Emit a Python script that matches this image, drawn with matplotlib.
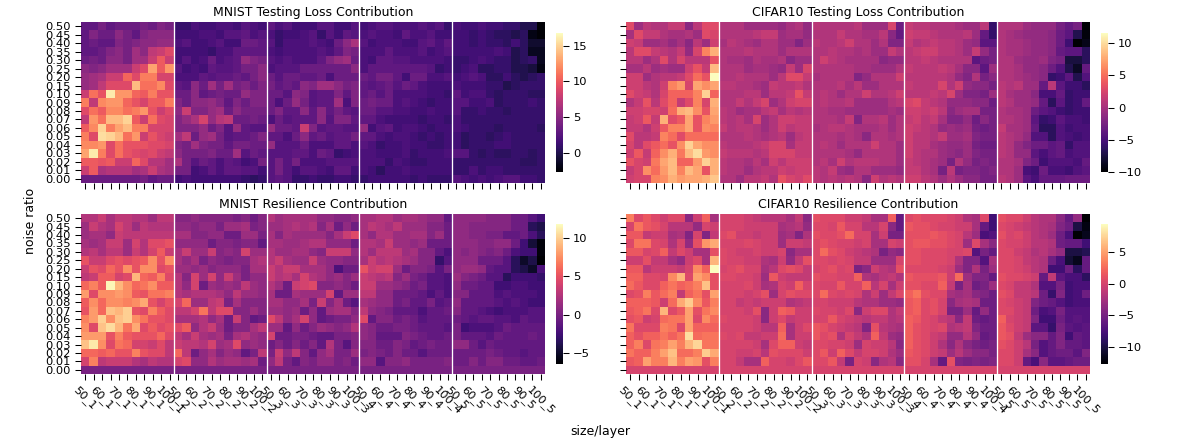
import numpy as np
import matplotlib
matplotlib.use("Agg")
import matplotlib.pyplot as plt

W, H, DPI = 1189, 443, 75

noise = ["0.50", "0.45", "0.40", "0.35", "0.30", "0.25", "0.20", "0.15", "0.10", "0.09",
         "0.08", "0.07", "0.06", "0.05", "0.04", "0.03", "0.02", "0.01", "0.00"]
sizes = [50, 55, 60, 65, 70, 75, 80, 85, 90, 95, 100]
layers = [1, 2, 3, 4, 5]
Z = [0] * 11  # zero noise row of the resilience maps

# rows run from noise 0.50 down to 0.00, columns from size 50 to 100
ml1 = [[3,3,4,3,3.5,3.5,3.5,4,3.5,4.5,4],
       [3,4.5,3.5,3.5,5,4,3,4.5,5,5,5],
       [3,3.5,3,3,4.5,4,4.5,5,5,5.5,5.5],
       [3,3,3.5,4.5,5,4,6,5,7.5,8,9],
       [3.5,4,3.5,5,5,4,6,6,8,10,8],
       [5,4.5,5,6,6,6,8,9,13,10,12.5],
       [5.5,6,6.5,8,8,10.5,9,11.5,11.5,8.5,8.5],
       [5.5,6,7.5,9,9,9,14,11,11,12,9],
       [8,11,9.5,16,12.5,12.5,10.5,10,11.5,9.5,9.5],
       [11.5,7.5,12,12.5,12.5,10.5,9.5,8.5,10,10,11.5],
       [9,11,10,12,12,11,11.5,12.5,9.5,8,9],
       [7.5,12.5,11,14,14,15,10,8,11,9,8.5],
       [10,12,15,11.5,13,14,11.5,11.5,8.5,8.5,8.5],
       [11.5,9,15.5,15,14,11,12.5,8,9.5,8.5,8],
       [12,12,12.5,9,11,9.5,9.5,9.5,9,9,8.5],
       [13,16,11.5,9,11,9.5,9,8.5,9,8,7.5],
       [10,10,9.5,10,8,8,10.5,9,7,7,6],
       [8,10,6.5,7,7,7,6,6.5,8,6.5,6],
       [3.5,3.5,3.5,3.5,3.5,3.5,3.5,4,3,3.5,3.5]]
ml2 = [[1,1,2,1.5,1.5,2,2,1.5,2.5,2,1.5],
       [1.5,1.5,1.5,2,2,1.5,2.5,2.5,3,2,2.5],
       [2,2.5,1.5,1.5,2,2.5,1.5,1.5,3.5,3.5,3],
       [1.5,1.5,1.5,1.5,1,2,2,3,3,3,3],
       [1.5,2.5,1.5,2,3.5,2,2.5,3,5.5,4.5,4],
       [2.5,1.5,2,1.5,3,2.5,2.5,3,4,4,5],
       [2,2,2,3,2.5,3,3,3.5,3,4,5],
       [3,2.5,5,3.5,6,4,6,4,4.5,3.5,4.5],
       [3.5,3.5,5,3,3.5,4,3.5,3.5,5.5,4.5,4.5],
       [4.5,3.5,5,5,5.5,4.5,3,4.5,3.5,4.5,4.5],
       [5,8,4.5,4.5,5.5,6,3.5,5,4,4,4],
       [4.5,5.5,6.5,8.5,5.5,7,7.5,3.5,3.5,4,3.5],
       [4.5,4.5,4.5,5.5,3.5,4.5,2.5,5.5,3,2.5,2.5],
       [6,7.5,3.5,5.5,6,4,2.5,3,3,3.5,4.5],
       [4.5,4,6,4.5,4,4,3,4,4,3.5,3.5],
       [5,4,4,4,4.5,3.5,3.5,6,2.5,3.5,3],
       [6.5,4,2.5,3.5,3,2,3,2.5,1.5,2,4],
       [4,4,1.5,2,3,2,3,3,2.5,2.5,1.5],
       [1.5,2,1.5,1.5,1.5,1.5,1.5,1.5,1,0.5,1]]
ml3 = [[3,2,2.5,1.5,1.5,1.5,2.5,2.5,1.5,1.5,2.5],
       [2,1,1.5,1.5,2,2.5,1,2.5,1.5,3,2.5],
       [2.5,1,2,2,2,2.5,2,1.5,3.5,5,6.5],
       [2,1.5,2,2,2,2,2.5,2,3,4.5,4],
       [2.5,2,2.5,2,2,2,3,4.5,5.5,6,3.5],
       [2,2.5,2.5,2.5,3.5,3.5,3.5,3.5,3.5,3.5,5],
       [3.5,2.5,3.5,3.5,3,3,3.5,2,3.5,3.5,3.5],
       [4,3,3.5,3,5,4.5,6,6,5,4,4.5],
       [3.5,3.5,2.5,5,4.5,2.5,3,3,4.5,3,4.5],
       [3.5,2,3.5,5.5,4,2.5,3,3,6,2,4.5],
       [3.5,4.5,3,3,5,3,5,3,4,3,2.5],
       [2,3.5,2.5,3,3,3,5,2.5,4.5,4.5,3],
       [5.5,3.5,3.5,3,8,4.5,2.5,3,3,2.5,2.5],
       [3,3,2,3.5,5,3,3.5,2.5,3,3,4],
       [5.5,2.5,2.5,2.5,3.5,2,2,2,3,3,2],
       [2.5,2.5,2.5,3,3,2,3.5,3,1,1.5,2],
       [2.5,4,2.5,4,2,2,2,2.5,2.5,2.5,2.5],
       [2.5,4,2.5,1.5,2.5,2.5,2,1.5,3,3,1.5],
       [2.5,3,2.5,1,1,1.5,1,1,1.5,1.5,1]]
ml4 = [[1.5,2,2.5,2.5,2,2,2,2.5,2,2.5,1],
       [2,2.5,2,2,1.5,3,2,2,2.5,1.5,1.5],
       [2.5,1.5,2,2,2,1.5,1.5,2.5,3,2,3],
       [2,2,2,3,2,2,2,2.5,1.5,2,2.5],
       [2,1.5,3,3,2.5,2.5,2,2,2,2,1.5],
       [2,3,3,3,3,3,3,3,2.5,1,1.5],
       [3.5,3,4,4,3,1.5,3.5,3.5,2,2,2.5],
       [3,2.5,3,3.5,2.5,3.5,3,2,1.5,1.5,1.5],
       [3,3.5,2.5,3.5,2,2,2,2,1.5,1.5,1],
       [3.5,4,3.5,3.5,2,2.5,2,1.5,1,1.5,1.5],
       [3.5,3.5,2.5,2.5,2,2,1.5,1.5,2,1.5,1.5],
       [3,3,2,1.5,1.5,1.5,1.5,1,1.5,1.5,1],
       [5.5,1.5,2.5,3,1.5,2,2,1.5,1,1.5,1.5],
       [3,3,2,1.5,2,2,1.5,1,1.5,1,1.5],
       [2.5,2,1,1.5,1.5,2,1.5,1.5,1,1,1.5],
       [2,2,1.5,1.5,1.5,2,1,1.5,1.5,1.5,2],
       [2,2,2,1,2,1.5,1,1,1.5,1.5,1.5],
       [2,1.5,0.5,1.5,1.5,2,1.5,1.5,1.5,1.5,1.5],
       [1,1.5,1.5,1.5,1.5,1.5,1,1.5,1,1,1]]
ml5 = [[2,1.5,1.5,2,1.5,1.5,1,1,0,0,-2.5],
       [1.5,1.5,1,1.5,1,0.5,0.5,0,0.5,-2,-2.5],
       [1.5,1.5,1,1.5,1,1,0.5,1.5,0.5,-1,-1],
       [1.5,1.5,1.5,1.5,1.5,2,1.5,0,0.5,-1.5,-1.5],
       [1,1,1.5,2,1.5,1,1,0,0.5,1,-1.5],
       [1,1.5,2,0.5,0.5,1,1,0,0,-0.5,-2],
       [1.5,2,2.5,2,0.5,0.5,1.5,0.5,0,0.5,1],
       [2,1.5,1.5,1.5,1,1,0,0.5,1,1,1],
       [3,1.5,2,2,1,0.5,1,1,1,0.5,0.5],
       [2.5,2.5,1.5,1.5,2,0.5,1,1,1,1.5,1],
       [2.5,1,1,1.5,1,1,0.5,1,1,1,1],
       [2,1,1,1,1,1,1,1,1,1,1],
       [2,1.5,1,1,1,0.5,1,1,1,1,0.5],
       [1.5,0.5,1,1,0.5,1,1.5,1,1,1,1],
       [1.5,0.5,1,1,1,1.5,1.5,1,1,1,1],
       [2.5,2.5,1,0.5,1,0.5,0.5,1,1,0.5,1],
       [1,1,1,1,1,1,1,1,0.5,0.5,1],
       [1,1,2,1,1.5,1.5,1,1,1,1,1],
       [2.5,2,1.5,2,1.5,2,2.5,2.5,1.5,1.5,1]]

mr1 = [[2.5,2.5,3.5,2,3,3,2.5,2.5,1.5,3,3],
       [1.5,3.5,2.5,2,4,3,1.5,3,2.5,2.5,2.5],
       [1.5,2,2,1,3.5,3,3,3,3,3,3],
       [2,1.5,2,3.5,3.5,1.5,4,2.5,4.5,4.5,5],
       [2.5,3,2,3,3,1.5,3.5,2.5,4,5.5,3.5],
       [5,3.5,3.5,4.5,5,4.5,5,5.5,7.5,5,7.5],
       [3.5,5,4.5,6,5,7.5,5,7.5,7.5,4.5,5],
       [3,3.5,5.5,5.5,4,4.5,9,6,5.5,7,4.5],
       [6,7,5.5,11.5,9,7.5,6,6.5,7.5,5.5,5.5],
       [8,4.5,7.5,7.5,8,7.5,5.5,5,6.5,6.5,7],
       [5.5,7.5,6,7.5,7.5,7,7.5,8.5,5,4,5],
       [5,8,6,9.5,9,10,5,4.5,7,5.5,4.5],
       [7,8,10,7.5,9.5,10,7.5,6.5,5,5,4.5],
       [7.5,4.5,9.5,10.5,9,6.5,8.5,4.5,5.5,4.5,5],
       [8,8,8,5,7,5.5,5,5,5,6,4.5],
       [9.5,11,7.5,4.5,6.5,6,4,4,3.5,4.5,3],
       [6,6,5.5,6,5,5,7,5,4.5,4.5,3],
       [4,7,3,3.5,3.5,3.5,2.5,2,3,2.5,2.5],
       Z]
mr2 = [[0.5,0.5,1,0.5,0.5,0.5,0.5,0,0.5,-0.5,0.5],
       [1,1,0.5,1,1,0,1.5,1.5,2,0,0.5],
       [2,2,0.5,0.5,1,1,-0.5,-0.5,1.5,1.5,0],
       [1,1,1,1,-0.5,0.5,0.5,0,0.5,0.5,-1],
       [2,3.5,1.5,1.5,3.5,0.5,1,0.5,4,1.5,1.5],
       [2,1,2,0,1,0.5,0,0.5,0.5,2,2.5],
       [1.5,1.5,1,1.5,0.5,1,1,1,0,2,2],
       [2.5,0.5,4,1.5,4,1,3.5,1.5,0,1,1],
       [2.5,1,4,-0.5,1.5,1,1.5,1,3,1.5,1],
       [2.5,2,2.5,2.5,2.5,2,1,3,1.5,1.5,1],
       [4,6,1.5,1.5,3,3.5,0,2,0.5,0.5,0.5],
       [3,3,4,6.5,3,4.5,4.5,0.5,0.5,1.5,0.5],
       [2,2,2,2.5,1,2,-0.5,3.5,0.5,-1,-0.5],
       [4.5,5.5,1,2.5,3.5,1.5,-0.5,0.5,0.5,2,3],
       [3,2,3.5,2,1.5,2,0,2,2.5,1.5,1],
       [3.5,3,3,2.5,4,1.5,2,4.5,1,1.5,1],
       [6,3,-0.5,1,2,0.5,1.5,1,-1,0,3],
       [4,4.5,1,1,2.5,1.5,2,2,1.5,2,-0.5],
       Z]
mr3 = [[2.5,1.5,2,2,2,2,1,1,0.5,0.5,1],
       [1.5,1.5,2,2.5,2,2.5,0.5,2,-0.5,1,-0.5],
       [2,0.5,2,1.5,1.5,1.5,1.5,0.5,2,3.5,4.5],
       [2,2,1.5,1.5,2,2.5,2.5,1,1,1,-0.5],
       [2.5,1.5,1.5,2,2,1,0.5,3.5,3.5,3.5,1],
       [2.5,3.5,2,1.5,1.5,3.5,1.5,1,1,0.5,0.5],
       [3.5,2.5,3.5,3.5,2,2,2,1,-2,-0.5,-0.5],
       [3.5,2.5,3,2,4,2.5,2,1,1.5,0.5,1.5],
       [2.5,1.5,-0.5,3.5,4,4.5,0.5,0.5,1,0.5,-0.5],
       [2,-0.5,-0.5,2,1.5,1.5,1.5,4,-1,1.5,1.5],
       [2,2,1,1,2,0,3.5,0.5,2,-0.5,-1.5],
       [1.5,1.5,1,1.5,-0.5,1,-1,1.5,2,2,0.5],
       [4.5,3,1,2,4,1,-1,-0.5,0,0,1],
       [1.5,1.5,-1,1,-0.5,0.5,1.5,1,0.5,1,2.5],
       [4,-0.5,-0.5,0,0,-0.5,-1,-1,0,0,0.5],
       [-0.5,0.5,-0.5,0.5,-0.5,0.5,-1,2.5,0,-1.5,0.5],
       [0,3.5,1,3,0.5,-1,1,2,0,0,1.5],
       [1,3,0,-1,0.5,0,1,1,0,0.5,-0.5],
       Z]
mr4 = [[2,2,2.5,2.5,1.5,2,2,1.5,1,1,-1],
       [2,3,2.5,2,3,1.5,1.5,1.5,0.5,0.5,-0.5],
       [2,1,2.5,2.5,1.5,1.5,2,2,0.5,1.5,-0.5],
       [2.5,2.5,2,3.5,1.5,1.5,1,1.5,-0.5,-0.5,-0.5],
       [2.5,1.5,3,3,3,1.5,2,0.5,0.5,-1,-2],
       [2,3.5,2.5,3,2.5,2,1.5,0.5,0.5,-3,-1.5],
       [5,3.5,4,4,1.5,-0.5,0.5,0.5,0,-1.5,0],
       [3.5,3,2.5,3,0.5,1.5,0,-0.5,-1.5,-1.5,-2],
       [3.5,3.5,1.5,1.5,1,0.5,-0.5,0,-1.5,-1.5,-2],
       [3,3,1,1,-0.5,-0.5,-0.5,-1,-2,-1,-2],
       [2,1.5,1,1,-0.5,0,-1,-1,0,-1.5,-1],
       [3,1,0.5,0,-1,-1,-1,-2,-1,-1,-0.5],
       [4.5,-1,0.5,0.5,-0.5,0,-0.5,-1.5,-1,-1,-1],
       [1,0.5,-0.5,-0.5,0,0,-0.5,-1,-1,-1,-1.5],
       [1,0.5,-1,-1,-1,0.5,0,-0.5,-1,-1,-0.5],
       [0.5,0.5,-0.5,-0.5,0.5,0,-1,-0.5,0,-0.5,-0.5],
       [0,0.5,0,-0.5,0.5,-0.5,-0.5,-1.5,-0.5,-0.5,-0.5],
       [1,1,-1.5,0.5,0.5,1,0,0,0,0,0.5],
       Z]
mr5 = [[1,1,1,1,0.5,0.5,0.5,-0.5,-0.5,-1.5,-2.5],
       [1,1,0.5,0.5,0.5,0.5,0.5,-0.5,-0.5,-3.5,-4],
       [1,1,0.5,0.5,0,0,-1,-1,-0.5,-2,-3.5],
       [1,1,1,0.5,0.5,1,1,-0.5,-2.5,-4.5,-6],
       [1,0.5,1,0.5,0,0.5,-0.5,-2,-2.5,-2.5,-6],
       [1,1,1,-0.5,-0.5,-0.5,-1.5,-3.5,-5,-4,-6.4],
       [1,1.5,1.5,1,-1,-1.5,-1.5,-3.5,-4,-5,-2],
       [1.5,0.5,0,-0.5,-1.5,-1.5,-3.5,-2.5,-2.5,-2.5,-3],
       [1,-0.5,-0.5,-1,-1,-2.5,-2.5,-2,-2,-2.5,-2.5],
       [0.5,0.5,-1,-1,-1,-2,-1.5,-2,-2,-2,-2.5],
       [1,-1,-1,-1,-1,-1.5,-2,-1.5,-2,-2.5,-2.5],
       [0.5,-1,-1,-1.5,-2,-2.5,-2,-2,-2,-1.5,-1.5],
       [-0.5,-1,-1.5,-1,-1,-1.5,-1.5,-2,-1,-1.5,-1.5],
       [0,-2.5,-2,-2,-2,-1.5,-0.5,-1,-1,-1,-1],
       [0,-1,-1,-1,-1.5,-0.5,-1,-1,-1,-0.5,-1],
       [1,1,-0.5,-1.5,-0.5,-1,-1,-1,-1,-1,-1],
       [-0.5,-0.5,-0.5,-0.5,0,-0.5,-1,-1,-1.5,-1,-1],
       [-0.5,-0.5,0.5,-0.5,0.5,0.5,-0.5,-0.5,-1,-1,-0.5],
       Z]

cl1 = [[3,-0.5,1,0.5,0.5,1.5,1.5,-1.5,1,3,3],
       [0,3,1.5,1.5,0.5,0,0,0.5,-0.5,3,2.5],
       [2,1.5,-0.5,-0.5,0,-1,0,-1.5,1,-0.5,2],
       [1,3,3,1.5,1,0.5,1.5,-1,2.5,6,8],
       [1,1,-0.5,0.5,3,0.5,2.5,1,1,1,3.5],
       [0,0,1,-0.5,0,-0.5,-0.5,2,3.5,1.5,8.5],
       [2,2,-0.5,0.5,1,1,1.5,3,5,3.5,11.6],
       [2,2,1,0.5,2,6,7,2.5,7.5,6.5,7.5],
       [3,2,1.5,0.5,2.5,4.5,4.5,4.5,6,9.5,4.5],
       [0.5,1.5,3.5,1,3,4.5,1.5,3,6,2.5,8],
       [2,2,2.5,2.5,2,5,8,8.5,6.5,3.5,7.5],
       [1.5,2,4,1.5,8,3,4,7.5,3.5,6,7],
       [1.5,1.5,0.5,2,4,6,6,7.5,3.5,6.5,6],
       [3,1,1,1.5,6,5,3,5,5,5,5],
       [2.5,1,3,4,5,3.5,6.5,9.5,7.5,6.5,6.5],
       [2,4,1.5,4.5,6.5,8,5.5,8.5,10,7,6.5],
       [3.5,2.5,2,5.5,7.5,8.5,4.5,4.5,7,9.5,8],
       [1.5,2.5,6.5,5,7,8.5,6,8.5,7.5,3.5,8],
       [2,2.5,2.5,6,6.5,8,7,7.5,7.5,8,9]]
cl2 = [[0.5,0.5,0.5,-0.5,-0.5,-0.5,-0.5,-1,0,0.5,-1],
       [0.5,0.5,0.5,0.5,1,1.5,1.5,-0.5,0,0,-1],
       [0,1,0.5,0,-0.5,0.5,0.5,-0.5,-0.5,-2,-0.5],
       [0.5,0.5,0.5,1,0.5,0.5,0.5,-0.5,0.5,0.5,0.5],
       [0.5,0,0,-0.5,0.5,0,0,0.5,-1.5,-0.5,-0.5],
       [0.5,0.5,0.5,-0.5,0,0,-0.5,-1,1.5,-0.5,2.5],
       [0.5,0.5,1,0.5,0.5,0.5,-0.5,1,3,3,1.5],
       [1,1,0.5,0.5,0,-0.5,1.5,1,1,1.5,0.5],
       [0.5,0.5,0.5,1,1,-0.5,1,1,1.5,3.5,1.5],
       [0.5,0.5,1.5,0.5,1.5,2.5,-0.5,0.5,2,2.5,2.5],
       [1,0.5,-0.5,0,0,1,1.5,0,1,0.5,1],
       [1,0.5,1,0,2.5,-0.5,0.5,2,2,1.5,1.5],
       [1.5,0.5,1,1,0.5,-0.5,0.5,2,1,1.5,1.5],
       [0.5,0.5,0.5,1,0.5,0,0.5,1,-0.5,1,1.5],
       [1,0.5,0.5,0.5,1,1.5,2.5,2.5,0,1.5,1.5],
       [1.5,1,1,1,0.5,1,2.5,2.5,2.5,1.5,1.5],
       [1,0.5,0.5,0,1,0,2,1,2,2,2],
       [1,0.5,0.5,-0.5,0.5,1,1,2,1.5,2,2],
       [0.5,0.5,-0.5,1,1,1.5,0.5,3.5,2.5,2,3]]
cl3 = [[1,0.5,0.5,0.5,0.5,1,-0.5,-0.5,-0.5,2.5,-3],
       [0.5,0.5,0.5,1.5,0.5,0.5,0,0,1,-1.5,-3.5],
       [1,0.5,0.5,1,2,0.5,0.5,-0.5,0.5,-2,-2],
       [0.5,0.5,1,0.5,0.5,0,0.5,-0.5,-0.5,1.5,0.5],
       [0.5,2,1,0.5,0,0,0,0,-1.5,-1,-1],
       [0.5,0.5,0.5,0.5,0.5,0,0,-0.5,-0.5,-0.5,0.5],
       [0,0.5,0.5,0.5,0.5,-2,-1,0.5,0.5,0.5,2],
       [0.5,0.5,0.5,1,0,1,-0.5,-0.5,0.5,0.5,0.5],
       [0.5,1,0.5,-0.5,0.5,0.5,2,0.5,0.5,1,2],
       [0.5,1,0.5,0.5,1,-0.5,-0.5,-0.5,-0.5,0.5,1],
       [0.5,0.5,0,0,-0.5,-0.5,-0.5,-0.5,-0.5,0,-0.5],
       [0.5,0.5,0.5,0,1.5,-2,0.5,0.5,1,-0.5,0.5],
       [0,0.5,1,1,0.5,0,0,0,0.5,-0.5,0.5],
       [0.5,0.5,0.5,0,0.5,0,-1.5,0.5,0.5,0,0.5],
       [0.5,1,0.5,-0.5,0.5,0.5,0.5,2,0.5,0.5,-0.5],
       [0.5,0.5,0.5,0.5,0,-1,0.5,0.5,0.5,0.5,-0.5],
       [0.5,1,0,2,0.5,1,1,1,0.5,0.5,-0.5],
       [1,0.5,1.5,-0.5,-1,0.5,0.5,-0.5,-0.5,-0.5,-1],
       [1,0.5,1,0.5,1,0.5,-1.5,2,0.5,1,0.5]]
cl4 = [[1.5,1,1,0.5,0.5,0.5,0,-0.5,-0.5,1,-6],
       [2,1.5,1.5,1,0.5,0.5,0.5,1,-0.5,-3.5,-6],
       [1.5,0.5,1,1.5,1,1,0.5,-0.5,-1,-4,-4],
       [1,1.5,2,2,1,1,0.5,-0.5,1.5,-1,-2.5],
       [1,1,1.5,1,0.5,0.5,0.5,0.5,-4,-3,-2.5],
       [1.5,1,1,1,1.5,1,0,-1.5,-1.5,-4,-0.5],
       [1,1,1,1,1,0.5,-1,-2,0.5,-2.5,-1.5],
       [1.5,1,1,1,2.5,0.5,2,-1,-1.5,-1.5,-2.5],
       [1,1,1,1.5,1,2.5,-0.5,-2,-2,-2.5,-0.5],
       [2.5,3,1.5,1,0.5,-1,-1,-1,-1.5,-1.5,-3],
       [2,2,1.5,2,1,-1.5,-0.5,0,0,-2.5,-2.5],
       [1.5,2,1,1.5,0,-2,-2,-1,-3,-1.5,-2.5],
       [2,1.5,1,0.5,-1,-0.5,-1,-0.5,-2.5,-3,-2.5],
       [2,1,1,0.5,1.5,-0.5,-0.5,0,-2,-2.5,-2.5],
       [2,1,1,0,-0.5,-1,-1,-0.5,-2.5,-3,-3],
       [2,1,0.5,0.5,-0.5,-1,-1.5,-0.5,-2,-2.5,-2.5],
       [1.5,1,0.5,0,-0.5,-2.5,0.5,-1,-2.5,-2,-2.5],
       [1.5,1.5,0.5,0,-2.5,1,-2.5,-2,-2,-2.5,-2],
       [2,2,1,0.5,-0.5,0.5,-0.5,-1.5,-1.5,-2.5,-2.5]]
cl5 = [[0.5,0.5,0.5,-0.5,-1,-1,-1,-2.5,-3.5,-2.5,-10],
       [0.5,0,-0.5,-1,-1,-1,-1.5,-3,-4,-7,-9.5],
       [0.5,0,0,-0.5,-1,-1,-1.5,-3,-5.5,-10,-9],
       [0.5,0,0,-0.5,-1,-1,-1.5,-3.5,-4,-4,-6.5],
       [0.5,0.5,-0.5,-1,-1,-0.5,-2,-2.5,-7.5,-7.5,-6.5],
       [0.5,0.5,0,-1,-1,-1.5,-3,-4.5,-7,-8.5,-3.5],
       [0.5,0.5,0,-0.5,-1,-1.5,-6,-5.5,-4,-7,-4.5],
       [1,0.5,1,-0.5,-0.5,-3.5,1,-4,-5.5,-5.5,-6.5],
       [1,0,-0.5,-0.5,-1.5,-5,-5,-3.5,-6,-5.5,-5.5],
       [1,0.5,-0.5,-0.5,-1,-3.5,-6.5,-4,-6,-5.5,-3.5],
       [0.5,0,0,-0.5,-3,-4,-4.5,-5.5,-6,-5.5,-5.5],
       [0.5,0.5,0,-0.5,-4,-6,-5.5,-4,-5,-5,-5.5],
       [1.5,0,0,-0.5,-3.5,-6.5,-6.5,-4.5,-5.5,-5,-5],
       [1,0.5,0,-1,-4.5,-4.5,-6.5,-4.5,-5,-5.5,-5],
       [1,0.5,-1,-2,-3,-3,-4,-3.5,-6,-4.5,-4.5],
       [1,0.5,-1,-1,-4,-5,-4,-3.5,-5,-4.5,-4.5],
       [0.5,0.5,0,-2,-3,-5.5,-4.5,-4.5,-4.5,-5,-3.5],
       [0.5,0.5,-0.5,-5,-5.5,-3,-5,-5,-5.5,-4.5,-4],
       [1,0.5,-0.5,-4,-5,-3.5,-3.5,-3.5,-3,-3,-3]]

cr1 = [[3.5,0.5,1.5,0.5,-0.5,0.5,0.5,-4,-0.5,2,-2.5],
       [0,3,1.5,1,0,-1.5,-1.5,-1.5,-3.5,0,-0.5],
       [1.5,1.5,-1,-0.5,-0.5,-2.5,-2,-4.5,0,-4.5,-1],
       [0.5,3,3,0.5,0,-2,0,-3.5,1,4.5,5.5],
       [1.5,1.5,0,0.5,2,-1,0.5,-0.5,-2.5,-2.5,1],
       [-0.5,-0.5,1,-1,-1,-2.5,-3.5,-0.5,0.5,-2.5,6],
       [1.5,1.5,-1.5,-0.5,-0.5,-0.5,-1,0,4,2,9.4],
       [2,2,0.5,0.5,0,4,6,0.5,5,4,1],
       [2.5,1.5,0.5,0.5,2,3,2,2.5,3.5,6.5,1],
       [0.5,1,3.5,1.5,2.5,3.5,-1,2,3,1,5],
       [2,2,2,1.5,-0.5,2.5,5.5,7,4,1.5,3.5],
       [1.5,2,3,0.5,6,0.5,1.5,5,1,3,4],
       [1,1.5,-0.5,0,2.5,3,3,5,0.5,4,2.5],
       [3,0.5,0.5,0.5,3.5,3,0.5,5,2,2,2],
       [2,1,2,2,3,2,3,8,2.5,3,3],
       [2,3.5,0.5,3,3.5,5,3.5,6,7.5,3,3],
       [3,2,2,3.5,5,6.5,2.5,2.5,3.5,7,5.5],
       [1.5,2,5,3.5,3.5,6,3.5,5,4.5,1,3.5],
       Z]
cr2 = [[0,0,0,-0.5,-1,-1.5,-1.5,-1.5,-2.5,-1,-4],
       [0,0,0,-0.5,-0.5,-0.5,-0.5,-2.5,-2,-1.5,-3.5],
       [0.5,1,-0.5,-0.5,-1,-0.5,-0.5,-3,-2.5,-4.5,-2],
       [0,0,0,0.5,0,-0.5,-0.5,-3,-0.5,-0.5,-1],
       [0.5,0,-0.5,-0.5,0,-0.5,-0.5,0,-4,-2.5,-2.5],
       [0.5,0,0,-0.5,-0.5,-2,-2.5,-0.5,-3.5,-1,1],
       [0,0.5,1,0,0,-2.5,-1.5,0.5,1,0.5,-1],
       [0.5,0.5,0,0,-0.5,-3,1.5,-0.5,-1,-1,-1],
       [0,0,0,0.5,-0.5,-2.5,-2,0,-0.5,2,0],
       [0,0,0,-0.5,0,1,-3,0,1,0.5,0.5],
       [0,0,-1,-0.5,-1,-0.5,-0.5,-0.5,-2,-1.5,-1],
       [0,0,0,-0.5,1,-4,-0.5,2,1.5,-0.5,-0.5],
       [0.5,0,0,0,-0.5,-4,-0.5,0.5,-1,-0.5,-0.5],
       [0,0,0,0,-0.5,-1.5,-1.5,2,-2.5,-0.5,0.5],
       [0.5,0,0.5,-1,-1,-0.5,-0.5,2.5,-2.5,-0.5,-0.5],
       [0,0,0,0,-0.5,-2.5,0.5,2,2,-0.5,-1],
       [0,0,-0.5,-0.5,0,-1.5,1,0.5,0.5,0.5,-0.5],
       [0,0,-1,-2.5,-2.5,2,0,0,-0.5,0.5,1.5],
       Z]
cr3 = [[1,0.5,0.5,0.5,-0.5,-0.5,-1,-2.5,-2.5,2,-6],
       [0.5,0.5,0,1.5,0,0,-1.5,-1.5,0,-4,-6],
       [1,0.5,0.5,1,2.5,0,0,-2.5,-0.5,-5,-5],
       [0.5,1,0.5,0,0,-0.5,0,-2.5,-2.5,0,-0.5],
       [0.5,2.5,1,0.5,-0.5,-1,-1.5,-2,-5,-3.5,-4],
       [0.5,0.5,0,0.5,0,-1,-1,-3,-3,-3,0],
       [0,0.5,1,0,0.5,-5,-4,-0.5,-1.5,-2,1],
       [1,0.5,0.5,0,0,2,-2,-2.5,-1.5,-1,-2],
       [0.5,0,0,1.5,0,0,2,-1.5,0,-2.5,-0.5],
       [0.5,2.5,0.5,0,0.5,0,-2,-0.5,-3,-1,0.5],
       [0,0,-0.5,-0.5,-0.5,-1.5,-2,-2,-3,-3,-3.5],
       [0.5,0,0,-0.5,0.5,-4,-0.5,0.5,0.5,-2,-1],
       [0,0,1.5,0,-0.5,-1,-1.5,-1,-1,-2,-1.5],
       [1.5,1,0,-0.5,-1,-1.5,-4.5,1,-1.5,-2,-2.5],
       [1.5,0.5,1,-2,0,-1,-2,2,-1,-3,-3.5],
       [0.5,0.5,0,0,-0.5,-3,0,-0.5,-0.5,-1.5,-4],
       [0.5,1.5,-0.5,2,0.5,-1,0,0,-0.5,-2,-3],
       [0.5,0.5,1.5,-1,-5,0,-0.5,-4,-2,-1.5,-4],
       Z]
cr4 = [[0.5,1,0.5,0.5,0.5,0,-0.5,-2,-2.5,0.5,-8],
       [1.5,1,1,0.5,0,0,-0.5,-0.5,-2.5,-6,-8],
       [1,1,1,1.5,1,0.5,0,-1.5,-3,-7.5,-7],
       [1,1.5,1.5,1,1,0.5,0,-3,0.5,-2.5,-4],
       [1,1,0.5,0.5,0.5,0,0,0.5,-7,-5,-6],
       [1,1,0.5,0.5,0.5,0,-2,-4.5,-4.5,-7,-2.5],
       [0.5,0.5,0.5,0.5,0,-0.5,-3,-4.5,-2,-5,-3],
       [1.5,1,1,1,1.5,-0.5,2.5,-3,-4.5,-4.5,-6],
       [1,1,0.5,0.5,2,-1,-5,-2.5,-5.5,-5,-3],
       [2,3,1,0.5,0.5,-2.5,-3,-2.5,-4,-4.5,-5.5],
       [1.5,2,0.5,1,0,-4,-2.5,-2,-2.5,-5.5,-5.5],
       [1.5,2,0.5,1,0,-5,-5,-3,-6,-3.5,-5.5],
       [2,1.5,0.5,0,-1,-1.5,-4,-1,-5.5,-6,-5.5],
       [2,1,0.5,0,0.5,-2,-1.5,-1,-4.5,-5.5,-5.5],
       [2,1,0.5,-0.5,-1,-3.5,-3.5,-1.5,-3.5,-6,-5.5],
       [2,1,0.5,-0.5,-2,-4,-2,-4,-5,-5.5,-5],
       [1.5,1,0.5,-0.5,-1,-3,-1.5,-3,-4,-4,-5],
       [1,1,0,-2.5,-6,1,-4.5,-5,-4.5,-5,-4.5],
       Z]
cr5 = [[1,0.5,0.5,-0.5,-1.5,-2,-2,-4,-6,-3.5,-12.7],
       [0.5,0,-0.5,-1,-1.5,-2,-2.5,-4.5,-5.5,-10,-12],
       [1,0,0.5,-0.5,-1.5,-2,-3,-5.5,-7.5,-12.7,-11.5],
       [0.5,0,0,-0.5,-1.5,-1.5,-2,-5.5,-6,-6,-8],
       [0.5,0.5,-0.5,-1,-2,-1.5,-2.5,-3.5,-10,-10,-9.5],
       [0.5,0.5,0,-1,-1.5,-2,-5.5,-7.5,-10.5,-11.5,-6],
       [0.5,0.5,0,-0.5,-1.5,-2,-8,-8,-5.5,-9,-6],
       [1,0.5,0.5,0,-0.5,-6,-1,-6.5,-7.5,-7.5,-9],
       [0.5,0,-1,-1,-2,-7,-7,-5,-8,-7.5,-7.5],
       [1,0.5,-1,-1,-1.5,-5.5,-8.5,-4.5,-8,-7.5,-5.5],
       [0.5,0,-0.5,-1,-4.5,-5.5,-6,-7,-8,-7.5,-7.5],
       [0.5,0.5,-0.5,-1,-5.5,-7.5,-7,-5,-7,-7,-7],
       [2,0,-0.5,-1,-4.5,-8,-8,-5.5,-7,-6.5,-7],
       [1.5,0.5,-0.5,-1,-6.5,-6.5,-8.5,-5,-6.5,-7,-6.5],
       [1.5,1,-1,-3,-4,-4,-6,-4.5,-8,-6,-6.5],
       [1,0.5,-0.5,-1.5,-5,-7,-6,-4.5,-6,-6,-6.5],
       [0.5,0.5,-0.5,-2.5,-4,-7,-6,-5.5,-5.5,-6.5,-4.5],
       [0.5,0.5,-0.5,-6,-7.5,-4,-6.5,-6.5,-6,-5.5,-5.5],
       Z]

mnist_loss = np.hstack([ml1, ml2, ml3, ml4, ml5])
mnist_res = np.hstack([mr1, mr2, mr3, mr4, mr5])
cifar_loss = np.hstack([cl1, cl2, cl3, cl4, cl5])
cifar_res = np.hstack([cr1, cr2, cr3, cr4, cr5])

titles = ["MNIST Testing Loss Contribution", "CIFAR10 Testing Loss Contribution",
          "MNIST Resilience Contribution", "CIFAR10 Resilience Contribution"]
panels = [mnist_loss, cifar_loss, mnist_res, cifar_res]
limits = [(-2.7, 16.8), (-10, 11.6), (-6.4, 11.8), (-12.7, 9.4)]


def box(x0, y0, x1, y1):
    # pixel box, y from the top, to figure fractions
    return [x0 / W, 1 - y1 / H, (x1 - x0) / W, (y1 - y0) / H]


plt.rcParams.update({"font.size": 12, "axes.titlesize": 12, "xtick.labelsize": 11,
                     "ytick.labelsize": 11, "xtick.major.size": 6, "ytick.major.size": 6,
                     "xtick.major.width": 1, "ytick.major.width": 1})

fig = plt.figure(figsize=((W + 0.01) / DPI, (H + 0.01) / DPI), dpi=DPI)

# a label on every other size, so 100_k sits next to 50_(k+1)
xlabels = [f"{s}_{l}" if i % 2 == 0 else "" for l in layers for i, s in enumerate(sizes)]
xticks = np.arange(len(xlabels)) + 0.5
yticks = np.arange(len(noise)) + 0.5

hm_x = [(81, 545), (626, 1090)]
hm_y = [(22, 183), (214, 374)]
cb_x = [(556, 563), (1101, 1108)]
cb_y = [(33, 172), (224, 364)]

for i, (data, title, (lo, hi)) in enumerate(zip(panels, titles, limits)):
    row, col = i // 2, i % 2
    ax = fig.add_axes(box(hm_x[col][0], hm_y[row][0], hm_x[col][1], hm_y[row][1]))
    mesh = ax.pcolormesh(data, cmap="magma", vmin=lo, vmax=hi, linewidth=0, rasterized=True)
    ax.set_ylim(len(noise), 0)
    ax.set_xlim(0, data.shape[1])
    for s in ax.spines.values():
        s.set_visible(False)
    for k in range(1, len(layers)):
        ax.axvline(k * len(sizes), color="white", lw=1.25)
    ax.set_xticks(xticks)
    ax.set_xticklabels(xlabels if row == 1 else [""] * len(xlabels), rotation=-45)
    ax.set_yticks(yticks)
    ax.set_yticklabels(noise if col == 0 else [""] * len(noise), rotation=0)
    ax.set_title(title)

    cax = fig.add_axes(box(cb_x[col][0], cb_y[row][0], cb_x[col][1], cb_y[row][1]))
    cbar = fig.colorbar(mesh, cax=cax)
    cbar.outline.set_visible(False)

fig.text(30 / W, 1 - 221 / H, "noise ratio", rotation=90, ha="center", va="center", fontsize=12)
fig.text(600 / W, 1 - 431 / H, "size/layer", ha="center", va="center", fontsize=12)

fig.savefig("out.png", dpi=DPI)
